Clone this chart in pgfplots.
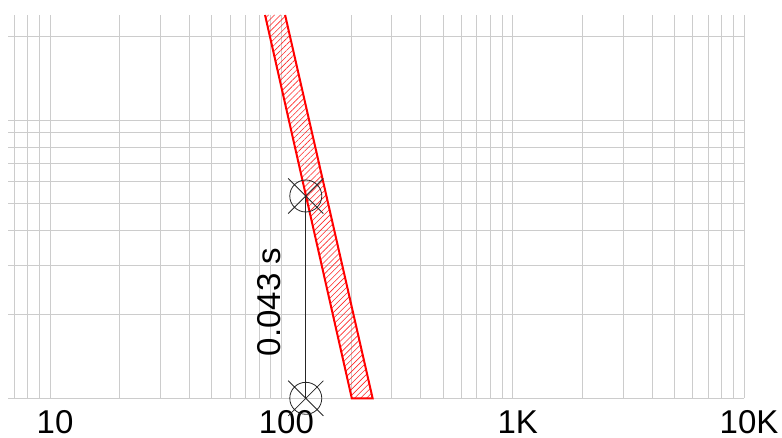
\documentclass[border=0pt]{standalone}
\usepackage{pgfplots}
\pgfplotsset{compat=1.18}
\usepackage{fontspec}
\setmainfont{Liberation Sans}
\usetikzlibrary{patterns.meta}

\pgfdeclareplotmark{xotimes}{%
  \pgfpathcircle{\pgfpointorigin}{\pgfplotmarksize}%
  \pgfpathmoveto{\pgfpoint{-1.1\pgfplotmarksize}{-1.1\pgfplotmarksize}}%
  \pgfpathlineto{\pgfpoint{1.1\pgfplotmarksize}{1.1\pgfplotmarksize}}%
  \pgfpathmoveto{\pgfpoint{-1.1\pgfplotmarksize}{1.1\pgfplotmarksize}}%
  \pgfpathlineto{\pgfpoint{1.1\pgfplotmarksize}{-1.1\pgfplotmarksize}}%
  \pgfusepathqstroke}

\begin{document}
\begin{tikzpicture}
\begin{loglogaxis}[
  scale only axis, width=736pt, height=383.3pt,
  xmin=6.58, xmax=10000, ymin=0.01, ymax=0.239,
  clip=false,
  axis line style={draw=none},
  major tick length=0pt, minor tick length=0pt,
  xtick={10,100,1000,10000}, xticklabels={10,100,1K,10K},
  minor xtick={7,8,9,20,30,40,50,60,70,80,90,200,300,400,500,600,700,800,900,2000,3000,4000,5000,6000,7000,8000,9000},
  ytick={0.01,0.1}, yticklabels={},
  minor ytick={0.02,0.03,0.04,0.05,0.06,0.07,0.08,0.09,0.2},
  grid=both,
  major grid style={black!20, line width=0.9pt},
  minor grid style={black!20, line width=0.9pt},
  xticklabel style={font=\fontsize{33}{40}\selectfont, inner sep=0pt, anchor=north, yshift=-12pt, xshift=5pt},
  /pgf/number format/assume math mode=true,
]
\addplot[draw=none, pattern={Lines[angle=45,distance=4.2pt,line width=0.6pt]}, pattern color=red!85]
  coordinates {(85,0.239) (201.6,0.01) (248,0.01) (103.8,0.239)} -- cycle;
\addplot[red, line width=2pt, line join=miter]
  coordinates {(85,0.239) (201.6,0.01) (248,0.01) (103.8,0.239)};
\addplot[black!85, line width=0.8pt, mark=xotimes, mark size=16pt]
  coordinates {(127.5,0.0534) (127.5,0.01)};
\node[rotate=90, anchor=base, font=\fontsize{33}{40}\selectfont, inner sep=0pt]
  at ([xshift=-25.7pt]axis cs:127.5,0.0222) {0.043 s};
\end{loglogaxis}
\pgfresetboundingbox
\path (-8pt,-39.7pt) rectangle (774pt,398.3pt);
\end{tikzpicture}
\end{document}
